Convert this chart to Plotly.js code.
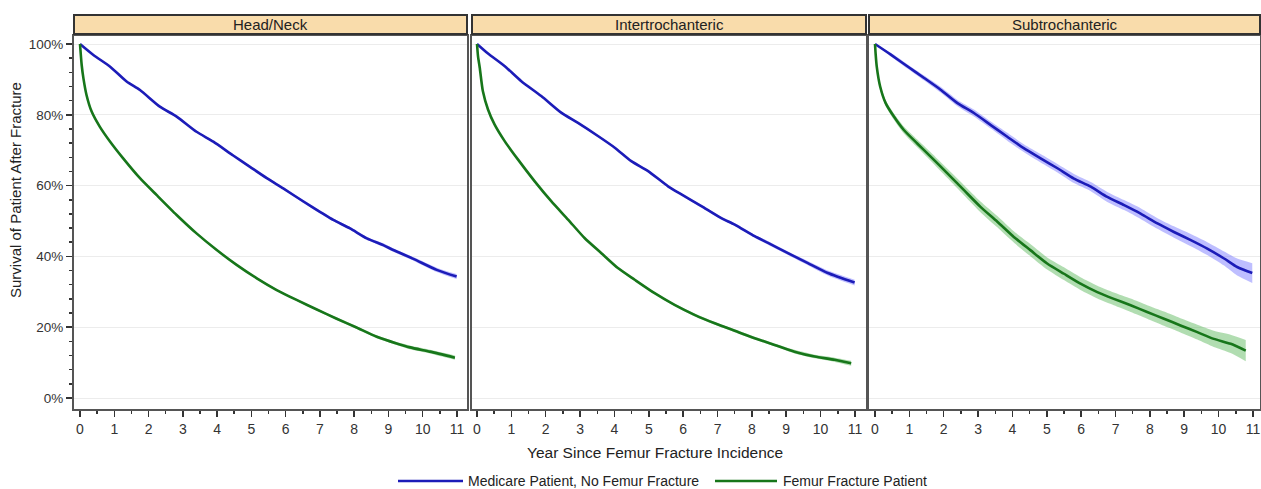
<!DOCTYPE html>
<html>
<head>
<meta charset="utf-8">
<script src="https://cdn.plot.ly/plotly-3.0.1.min.js"></script>
<style>html,body{margin:0;padding:0;background:#fff;}#chart{width:1261px;height:489px;}</style>
</head>
<body>
<div id="chart"></div>
<script>
// ---------- DATA ----------
const panelTitles = ["Head/Neck", "Intertrochanteric", "Subtrochanteric"];
const seriesNames = ["Medicare Patient, No Femur Fracture", "Femur Fracture Patient"];
const yTickVals = [0, 20, 40, 60, 80, 100];
const xTickVals = [0,1,2,3,4,5,6,7,8,9,10,11];

// Head/Neck
const hnBlueX = [0,0.39,0.88,1.36,1.75,2.33,2.82,3.40,3.89,4.47,4.96,5.45,5.93,6.52,7.00,7.39,7.88,8.37,8.85,9.14,9.73,10.41,10.99];
const hnBlueY = [100,96.9,93.6,89.4,87.0,82.3,79.5,75.2,72.4,68.5,65.3,62.1,59.2,55.5,52.6,50.3,47.9,45.1,43.2,41.8,39.3,36.2,34.3];
const hnBlueCI = [0,0.2,0.2,0.2,0.2,0.3,0.3,0.3,0.3,0.3,0.3,0.3,0.3,0.4,0.4,0.4,0.4,0.4,0.5,0.5,0.5,0.6,0.7];
const hnGreenX = [0,0.05,0.10,0.19,0.34,0.58,0.88,1.26,1.75,2.24,2.82,3.40,3.99,4.57,5.16,5.74,6.32,6.91,7.49,8.07,8.66,9.24,9.63,10.21,10.94];
const hnGreenY = [100,94,90.3,85.6,80.9,76.6,72.4,67.7,62.1,57.3,51.7,46.5,41.8,37.6,33.8,30.5,27.7,25.0,22.4,19.9,17.3,15.4,14.3,13.1,11.4];
const hnGreenCI = [0,0.2,0.2,0.2,0.2,0.2,0.2,0.3,0.3,0.3,0.3,0.3,0.3,0.3,0.3,0.3,0.3,0.3,0.4,0.4,0.4,0.4,0.5,0.5,0.6];

// Intertrochanteric
const itBlueX = [0,0.32,0.80,1.29,1.87,2.45,2.94,3.52,4.01,4.49,4.98,5.56,5.95,6.53,7.11,7.50,8.08,8.47,9.05,9.63,10.21,10.99];
const itBlueY = [100,97.3,93.8,89.5,85.3,80.6,77.7,74.0,70.7,66.9,64.1,59.8,57.5,54.2,50.8,49.0,45.7,43.8,40.9,38.1,35.3,32.6];
const itBlueCI = [0,0.2,0.2,0.2,0.2,0.3,0.3,0.3,0.3,0.3,0.3,0.3,0.3,0.4,0.4,0.4,0.4,0.5,0.5,0.6,0.7,0.8];
const itGreenX = [0,0.03,0.08,0.17,0.32,0.51,0.81,1.19,1.68,2.16,2.65,3.13,3.62,4.10,4.59,5.17,5.75,6.33,6.92,7.50,8.08,8.66,9.24,9.83,10.41,10.89];
const itGreenY = [100,96.5,93.3,86.7,81.5,77.3,72.5,67.4,61.2,55.6,50.4,45.2,40.9,36.7,33.4,29.6,26.3,23.5,21.1,19.0,16.9,15.0,13.1,11.7,10.8,9.8];
const itGreenCI = [0,0.2,0.2,0.2,0.2,0.2,0.2,0.3,0.3,0.3,0.3,0.3,0.3,0.3,0.3,0.3,0.3,0.4,0.4,0.4,0.4,0.4,0.5,0.5,0.6,0.7];

// Subtrochanteric
const stBlueX = [0,0.46,0.94,1.43,1.91,2.40,2.88,3.37,3.85,4.34,4.82,5.31,5.79,6.28,6.76,7.25,7.73,8.22,8.70,9.19,9.67,10.16,10.54,10.98];
const stBlueY = [100,97.0,93.7,90.4,87.1,83.3,80.5,77.1,73.8,70.5,67.7,64.9,62.0,59.7,56.8,54.5,52.1,49.3,46.9,44.6,42.2,39.4,37.0,35.3];
const stBlueCI = [0,0.5,0.6,0.7,0.8,0.9,1.0,1.0,1.1,1.1,1.2,1.2,1.3,1.3,1.4,1.4,1.5,1.5,1.6,1.7,1.8,2.0,2.4,2.8];
const stGreenX = [0,0.02,0.05,0.15,0.31,0.55,0.84,1.23,1.62,2.10,2.59,3.07,3.56,4.04,4.53,5.01,5.50,5.98,6.47,6.95,7.44,7.92,8.41,8.89,9.38,9.86,10.35,10.79];
const stGreenY = [100,97,93.7,88.0,83.3,79.5,75.7,71.9,68.2,63.5,58.7,54.0,49.8,45.5,41.7,38.0,35.1,32.3,29.9,28.0,26.2,24.3,22.4,20.5,18.6,16.7,15.3,13.4];
const stGreenCI = [0,0.3,0.5,0.7,0.8,0.9,1.0,1.1,1.2,1.3,1.4,1.5,1.6,1.6,1.7,1.7,1.8,1.8,1.8,1.8,1.9,1.9,2.0,2.0,2.1,2.3,2.6,3.0];

// ---------- STYLE / LAYOUT ----------
const W = 1261, H = 489;
const FONT = '"Liberation Sans", Arial, Helvetica, sans-serif';
const BLUE = '#1c1cb8', GREEN = '#17761a';
const BLUE_BAND = 'rgba(110,110,255,0.45)', GREEN_BAND = 'rgba(70,175,70,0.42)';
const px = v => v / W, py = v => 1 - v / H;

const panelPx = [[74, 467], [472, 866], [869, 1260]];
const zeroPx = [80, 477, 875];
const pxPerYear = [34.27, 34.36, 34.36];
const plotTop = 36, plotBottom = 409, headTop = 15, headBottom = 34;

const panels = [
  {blue: [hnBlueX, hnBlueY, hnBlueCI], green: [hnGreenX, hnGreenY, hnGreenCI]},
  {blue: [itBlueX, itBlueY, itBlueCI], green: [itGreenX, itGreenY, itGreenCI]},
  {blue: [stBlueX, stBlueY, stBlueCI], green: [stGreenX, stGreenY, stGreenCI]}
];

const traces = [];
panels.forEach((p, i) => {
  const xa = i === 0 ? 'x' : 'x' + (i + 1);
  const ya = i === 0 ? 'y' : 'y' + (i + 1);
  [[p.blue, BLUE_BAND], [p.green, GREEN_BAND]].forEach(([s, band]) => {
    const [xs, ys, ci] = s;
    traces.push({x: xs, y: ys.map((v, j) => v - (ci[j] || 0)), xaxis: xa, yaxis: ya, mode: 'lines',
      line: {width: 0, color: band, shape: 'spline', smoothing: 0.6}, showlegend: false, hoverinfo: 'skip'});
    traces.push({x: xs, y: ys.map((v, j) => Math.min(100, v + (ci[j] || 0))), xaxis: xa, yaxis: ya, mode: 'lines',
      line: {width: 0, color: band, shape: 'spline', smoothing: 0.6}, fill: 'tonexty', fillcolor: band, showlegend: false, hoverinfo: 'skip'});
  });
  [[p.blue, BLUE, 0], [p.green, GREEN, 1]].forEach(([s, col, k]) => {
    traces.push({x: s[0], y: s[1], xaxis: xa, yaxis: ya, mode: 'lines', name: seriesNames[k],
      line: {width: 2.6, color: col, shape: 'spline', smoothing: 0.6}, showlegend: false});
  });
});

const layout = {
  width: W, height: H,
  margin: {l: 0, r: 0, t: 0, b: 0, pad: 0},
  paper_bgcolor: '#fff', plot_bgcolor: '#fff',
  font: {family: FONT, size: 12, color: '#333'},
  showlegend: false,
  shapes: [], annotations: []
};

const yDomain = [py(plotBottom), py(plotTop)];
const yRange = [-(plotBottom - 398) / 3.54, 100 + (44 - plotTop) / 3.54];

panelPx.forEach((d, i) => {
  const sfx = i === 0 ? '' : String(i + 1);
  const xr = [(d[0] - zeroPx[i]) / pxPerYear[i], (d[1] - zeroPx[i]) / pxPerYear[i]];
  layout['xaxis' + sfx] = {
    domain: [px(d[0]), px(d[1])], range: xr, anchor: 'y' + sfx,
    tickvals: xTickVals, ticktext: xTickVals.map(String),
    ticks: 'outside', ticklen: 6, tickwidth: 1.5, tickcolor: '#333',
    minor: {tickvals: xTickVals.slice(0, -1).map(v => v + 0.5), ticks: 'outside', ticklen: 3, tickwidth: 1.5, tickcolor: '#333', showgrid: false},
    showline: true, linecolor: '#555', linewidth: 2, mirror: true,
    showgrid: false, zeroline: false,
    tickfont: {family: FONT, size: 14, color: '#333'}, fixedrange: true
  };
  layout['yaxis' + sfx] = {
    domain: yDomain, range: yRange, anchor: 'x' + sfx,
    tickvals: yTickVals, ticktext: yTickVals.map(v => v + '%'),
    showticklabels: i === 0,
    ticks: i === 0 ? 'outside' : '', ticklen: 6, tickwidth: 1.5, tickcolor: '#333',
    minor: i === 0 ? {dtick: 4, tick0: 0, ticks: 'outside', ticklen: 3, tickwidth: 1.5, tickcolor: '#333', showgrid: false} : {ticks: '', showgrid: false},
    showline: true, linecolor: '#555', linewidth: 2, mirror: true,
    showgrid: true, gridcolor: '#ececec', gridwidth: 1, zeroline: false,
    tickfont: {family: FONT, size: 13.5, color: '#333'}, fixedrange: true
  };
  // header strip
  layout.shapes.push({type: 'rect', xref: 'paper', yref: 'paper',
    x0: px(d[0]), x1: px(d[1]), y0: py(headBottom), y1: py(headTop),
    fillcolor: '#f9dcab', line: {color: '#333', width: 2}});
  layout.annotations.push({xref: 'paper', yref: 'paper', x: px((d[0] + d[1]) / 2), y: py((headTop + headBottom) / 2),
    text: panelTitles[i], showarrow: false, xanchor: 'center', yanchor: 'middle',
    font: {family: FONT, size: 15, color: '#222'}});
});

// axis titles
layout.annotations.push({xref: 'paper', yref: 'paper', x: px(15), y: py(190), textangle: -90,
  text: 'Survival of Patient After Fracture', showarrow: false, xanchor: 'center', yanchor: 'middle',
  font: {family: FONT, size: 15, color: '#222'}});
layout.annotations.push({xref: 'paper', yref: 'paper', x: px(655), y: py(452),
  text: 'Year Since Femur Fracture Incidence', showarrow: false, xanchor: 'center', yanchor: 'middle',
  font: {family: FONT, size: 15.5, color: '#222'}});

// legend (drawn manually to match long line samples)
const legY = 481;
layout.shapes.push({type: 'line', xref: 'paper', yref: 'paper', x0: px(398), x1: px(463), y0: py(legY), y1: py(legY), line: {color: BLUE, width: 2.6}});
layout.shapes.push({type: 'line', xref: 'paper', yref: 'paper', x0: px(715), x1: px(777), y0: py(legY), y1: py(legY), line: {color: GREEN, width: 2.6}});
layout.annotations.push({xref: 'paper', yref: 'paper', x: px(466), y: py(legY), text: seriesNames[0], showarrow: false,
  xanchor: 'left', yanchor: 'middle', font: {family: FONT, size: 14, color: '#222'}});
layout.annotations.push({xref: 'paper', yref: 'paper', x: px(781), y: py(legY), text: seriesNames[1], showarrow: false,
  xanchor: 'left', yanchor: 'middle', font: {family: FONT, size: 14, color: '#222'}});

Plotly.newPlot('chart', traces, layout, {staticPlot: true, displayModeBar: false});
</script>
</body>
</html>
